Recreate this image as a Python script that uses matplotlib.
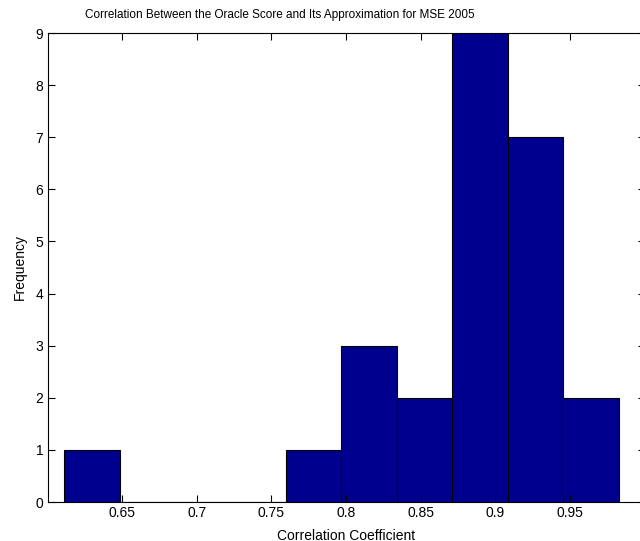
import matplotlib.pyplot as plt
import numpy as np

# histogram of correlation coefficients (10 bins)
counts = [1, 0, 0, 0, 1, 3, 2, 9, 7, 2]
lo, hi = 0.6111, 0.9826
xticks = [0.65, 0.7, 0.75, 0.8, 0.85, 0.9, 0.95]
xticklabels = ['0.65', '0.7', '0.75', '0.8', '0.85', '0.9', '0.95']
yticks = list(range(10))

plt.rcParams['font.family'] = ['Liberation Sans', 'DejaVu Sans']

edges = np.linspace(lo, hi, len(counts) + 1)
w = edges[1] - edges[0]

fig = plt.figure(figsize=(6.4, 5.41), dpi=100)
ax = fig.add_axes([47.5/640, 39/541, 597/640, 469/541])
ax.bar(edges[:-1], counts, width=w, align='edge', color='#00008F', edgecolor='black', linewidth=0.8)

ax.set_xlim(0.6, 1.0)
ax.set_ylim(0, 9)
ax.set_xticks(xticks)
ax.set_xticklabels(xticklabels)
ax.set_yticks(yticks)
ax.tick_params(direction='in', top=True, right=True, length=5, width=0.8, labelsize=10, pad=3)
for s in ax.spines.values():
    s.set_linewidth(0.8)

ax.set_xlabel('Correlation Coefficient', fontsize=10, labelpad=6)
ax.set_ylabel('Frequency', fontsize=10, labelpad=6)
fig.text(280/640, 1 - 15/541, 'Correlation Between the Oracle Score and Its Approximation for MSE 2005',
         ha='center', va='center', fontsize=8.5)

plt.savefig('out.png', dpi=100)
